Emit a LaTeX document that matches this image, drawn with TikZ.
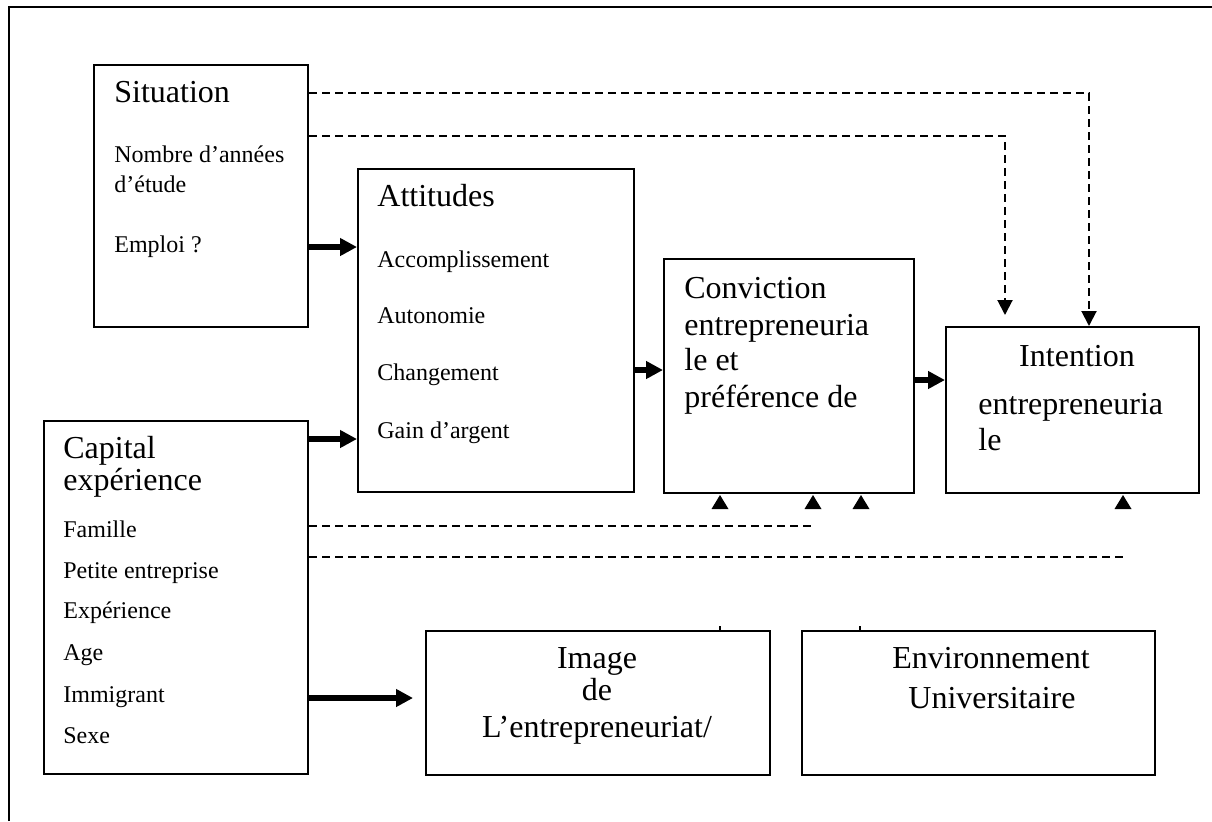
\documentclass[tikz,border=0pt]{standalone}
\usepackage{fontspec}
\setmainfont{Liberation Serif}
\usetikzlibrary{arrows.meta}
\begin{document}
\begin{tikzpicture}[x=0.5pt,y=-0.5pt,
  box/.style={draw, line width=1pt, inner sep=0pt, anchor=north west},
  small/.style={inner sep=0pt, anchor=base west, font=\fontsize{12}{14}\selectfont},
  big/.style={inner sep=0pt, anchor=base west, font=\fontsize{16}{19}\selectfont},
  bigc/.style={big, anchor=base},
  flow/.style={line width=3pt, -{Triangle[length=8.5pt,width=8.5pt]}},
  dashline/.style={line width=1pt, dash pattern=on 4pt off 2.5pt},
  dasharrow/.style={dashline, -{Triangle[length=7.5pt,width=7.5pt]}},
  uptip/.pic={\fill (-8.5,0) -- (0,-14) -- (8.5,0) -- cycle;},
]
\useasboundingbox (0,0) rectangle (1212,821);

% frame
\draw[line width=1pt] (9,821) -- (9,7) -- (1212,7);

% boxes
\node[box, minimum width=107pt, minimum height=131pt]   (sit)  at (93,64)   {};
\node[box, minimum width=138pt, minimum height=161.5pt] (att)  at (357,168) {};
\node[box, minimum width=125pt, minimum height=117pt]   (conv) at (663,258) {};
\node[box, minimum width=126.5pt, minimum height=83pt]  (int)  at (945,326) {};
\node[box, minimum width=132pt, minimum height=176.5pt] (cap)  at (43,420)  {};
\node[box, minimum width=172pt, minimum height=72pt]    (img)  at (425,630) {};
\node[box, minimum width=176.5pt, minimum height=72pt]  (env)  at (801,630) {};

% Situation
\node[big]   (sit1) at (114,102) {Situation};
\node[small] (sit2) at (114,162) {Nombre d’années};
\node[small] (sit3) at (114,192) {d’étude};
\node[small] (sit4) at (114,252) {Emploi ?};

% Attitudes
\node[big]   (att1) at (377,206) {Attitudes};
\node[small] (att2) at (377,267) {Accomplissement};
\node[small] (att3) at (377,323) {Autonomie};
\node[small] (att4) at (377,380) {Changement};
\node[small] (att5) at (377,438) {Gain d’argent};

% Conviction
\node[big] (conv1) at (684,298) {Conviction};
\node[big] (conv2) at (684,335) {entrepreneuria};
\node[big] (conv3) at (684,370) {le et};
\node[big] (conv4) at (684,407) {préférence de};

% Intention
\node[bigc] (int1) at (1077,366) {Intention};
\node[big]  (int2) at (978,414) {entrepreneuria};
\node[big]  (int3) at (978,450) {le};

% Capital experience
\node[big]   (cap1) at (63,458) {Capital};
\node[big]   (cap2) at (63,490) {expérience};
\node[small] (cap3) at (63,537) {Famille};
\node[small] (cap4) at (63,578) {Petite entreprise};
\node[small] (cap5) at (63,618) {Expérience};
\node[small] (cap6) at (63,660) {Age};
\node[small] (cap7) at (63,702) {Immigrant};
\node[small] (cap8) at (63,743) {Sexe};

% Image
\node[bigc] (img1) at (597,668) {Image};
\node[bigc] (img2) at (597,700) {de};
\node[bigc] (img3) at (597,737) {L’entrepreneuriat/};

% Environnement
\node[bigc] (env1) at (991,668) {Environnement};
\node[bigc] (env2) at (992,708) {Universitaire};

% solid flows
\draw[flow] (sit.east |- 0,247) -- (att.west |- 0,247);
\draw[flow] (cap.east |- 0,439) -- (att.west |- 0,439);
\draw[flow] (att.east |- 0,370) -- (conv.west |- 0,370);
\draw[flow] (conv.east |- 0,380) -- (int.west |- 0,380);
\coordinate (imgtip) at (413,698);
\draw[flow] (cap.east |- imgtip) -- (imgtip);

% dashed links from Situation
\draw[dasharrow] (sit.east |- 0,93) -| (1089,0 |- int.north);
\coordinate (tipB) at (1005,315);
\draw[dasharrow] (sit.east |- 0,136) -| (tipB);

% dashed links from Capital experience
\coordinate (endA) at (813,526);
\coordinate (endB) at (1123,557);
\draw[dashline] (cap.east |- endA) -- (endA);
\draw[dashline] (cap.east |- endB) -- (endB);

% upward tips under the boxes
\pic at (720,509) {uptip};
\pic at (endA |- 0,509) {uptip};
\pic at (861,509) {uptip};
\pic at (endB |- 0,509) {uptip};

% small marks on the lower boxes
\draw[line width=0.6pt] (720,0 |- img.north) -- ++(0,-4);
\draw[line width=0.6pt] (860,0 |- env.north) -- ++(0,-4);
\end{tikzpicture}
\end{document}
